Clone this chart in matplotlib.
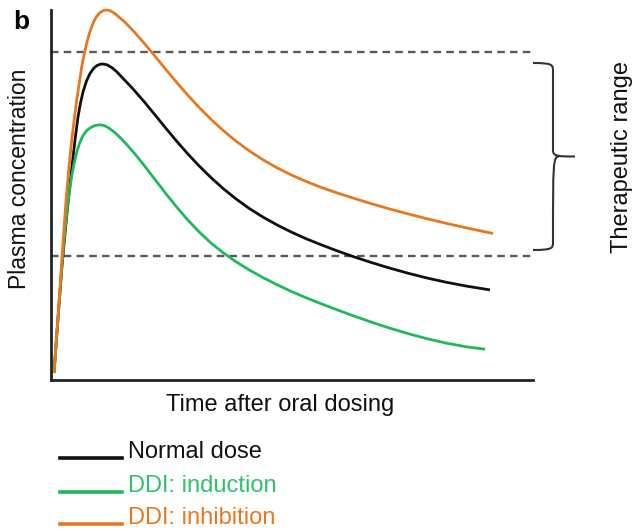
import numpy as np
import matplotlib.pyplot as plt
from matplotlib.path import Path
from matplotlib.patches import PathPatch

plt.rcParams['font.family'] = ['Liberation Sans', 'DejaVu Sans']

# values (arbitrary units: time 0-482, concentration 0-370)
normal_t = [3, 7, 11, 15, 19, 24, 27, 29.5, 32, 35.5, 39, 42.5, 45.7, 49, 52, 56, 60.7, 65.5, 70.7, 82,
            94, 104, 115, 126, 137, 148, 160, 172, 185, 198, 212, 226, 240, 255, 270, 286, 302, 320,
            338, 357, 376, 396, 416, 439]
normal_c = [7, 62, 114, 157, 196, 240, 263, 277, 288, 299, 306.5, 311.5, 314.3, 315.7, 316, 315.2, 312.5,
            308.5, 303, 291.1, 277.3, 265.1, 251.6, 238.4, 225.9, 214.2, 202.4, 191.6, 181.1, 171.7,
            162.9, 155.1, 148.1, 141.3, 135.3, 129.2, 123.5, 117.6, 112.1, 106.8, 102.0, 97.6, 93.8, 90.1]

induction_t = [3, 7.3, 10.7, 14, 17, 20.7, 23, 25.7, 28.5, 32, 36, 40.7, 44.5, 49, 53, 57, 62, 67, 72,
               77, 84, 94, 104, 115, 126, 137, 148, 160, 172, 185, 198, 212, 226, 240, 255, 270, 286,
               302, 320, 338, 357, 376, 396, 416, 434]
induction_c = [7, 66, 112, 150, 178, 204, 216, 227.5, 236.5, 244.5, 249.8, 253, 254.6, 255.2, 254.5,
               252.5, 249, 244.5, 239.5, 234, 226, 213.5, 200.5, 186.2, 172.6, 159.8, 148.2, 137.0,
               127.4, 118.3, 110.2, 102.4, 95.3, 88.7, 82.3, 76.3, 70.2, 64.3, 58.0, 52.1, 46.4, 41.3,
               36.7, 33.1, 30.8]

inhibition_t = [3, 7.3, 10.7, 14.7, 17.7, 20.7, 25.7, 30.7, 33, 35.7, 38.5, 42.3, 45.5, 49, 52.5, 55.7,
                59.5, 64, 74, 84, 94, 104, 115, 126, 137, 148, 160, 172, 185, 198, 212, 226, 240, 255,
                270, 286, 302, 320, 338, 357, 376, 396, 416, 442]
inhibition_c = [7, 67, 118, 175, 210, 240, 280, 313, 325, 337, 347, 357.5, 363.5, 367.5, 369.5, 370,
                369.2, 366.3, 357.8, 347.3, 335.8, 323.8, 310.4, 297.2, 284.6, 272.7, 260.7, 249.7,
                238.9, 229.3, 220.2, 212.2, 205.2, 198.6, 192.7, 187.1, 182, 176.4, 171.2, 166.1,
                161.3, 156.5, 152, 146.5]

range_low = 124
range_high = 328

labels = ['Normal dose', 'DDI: induction', 'DDI: inhibition']
colors = ['#111111', '#1fb85a', '#e8781f']
text_colors = ['#111111', '#2cc46a', '#e8781f']

W, H = 636, 531
fig = plt.figure(figsize=(W / 100, H / 100), dpi=100)
ax = fig.add_axes([51 / W, 1 - 380 / H, 482 / W, 370 / H])

series = [(normal_t, normal_c), (induction_t, induction_c), (inhibition_t, inhibition_c)]
for (t, c), col in zip(series, colors):
    ax.plot(t, c, color=col, lw=2.0, solid_joinstyle='round', solid_capstyle='butt', clip_on=False)

for lvl in (range_low, range_high):
    ax.plot([0, 482], [lvl, lvl], color='#5a5a5a', lw=1.7, dashes=(3.2, 2.2), zorder=0)

ax.set_xlim(0, 482)
ax.set_ylim(0, 370)
ax.set_xticks([])
ax.set_yticks([])
for s in ['top', 'right']:
    ax.spines[s].set_visible(False)
for s in ['left', 'bottom']:
    ax.spines[s].set_linewidth(2)
    ax.spines[s].set_color('#222222')

# curly bracket for the therapeutic range
bx0, bx1, btip = 482, 502, 524
top, bot = range_high - 13, range_low + 8
mid = (top + bot) / 2
verts = [(bx0, top + 2), (bx1, top + 2), (bx1, top), (bx1, top - 6),
         (bx1, mid + 6),
         (bx1, mid), (bx1 + 6, mid), (btip, mid),
         (bx1 + 6, mid), (bx1, mid), (bx1, mid - 6),
         (bx1, bot + 6),
         (bx1, bot), (bx1, bot - 2), (bx0, bot - 2)]
codes = [Path.MOVETO, Path.CURVE4, Path.CURVE4, Path.CURVE4,
         Path.LINETO,
         Path.CURVE4, Path.CURVE4, Path.CURVE4,
         Path.MOVETO, Path.CURVE4, Path.CURVE4,
         Path.LINETO,
         Path.CURVE4, Path.CURVE4, Path.CURVE4]
ax.add_patch(PathPatch(Path(verts, codes), fill=False, ec='#333333', lw=1.5, clip_on=False))


def fx(px):
    return px / W


def fy(py):
    return 1 - py / H


fig.text(fx(21), fy(22), 'b', fontsize=19, fontweight='bold', ha='center', va='center')
fig.text(fx(280), fy(405), 'Time after oral dosing', fontsize=17, ha='center', va='center', color='#111111')
fig.text(fx(20), fy(179), 'Plasma concentration', fontsize=16.5, ha='center', va='center',
         rotation=90, color='#111111')
fig.text(fx(622), fy(157), 'Therapeutic range', fontsize=17, ha='center', va='center',
         rotation=90, color='#111111')

leg_y = [458, 492, 524]
for lab, col, tcol, y in zip(labels, colors, text_colors, leg_y):
    fig.add_artist(plt.Line2D([fx(60), fx(122)], [fy(y), fy(y)], color=col, lw=2.6))
    fig.text(fx(128), fy(y - 6), lab, fontsize=17, ha='left', va='center', color=tcol)

fig.savefig('out.png', dpi=100)
